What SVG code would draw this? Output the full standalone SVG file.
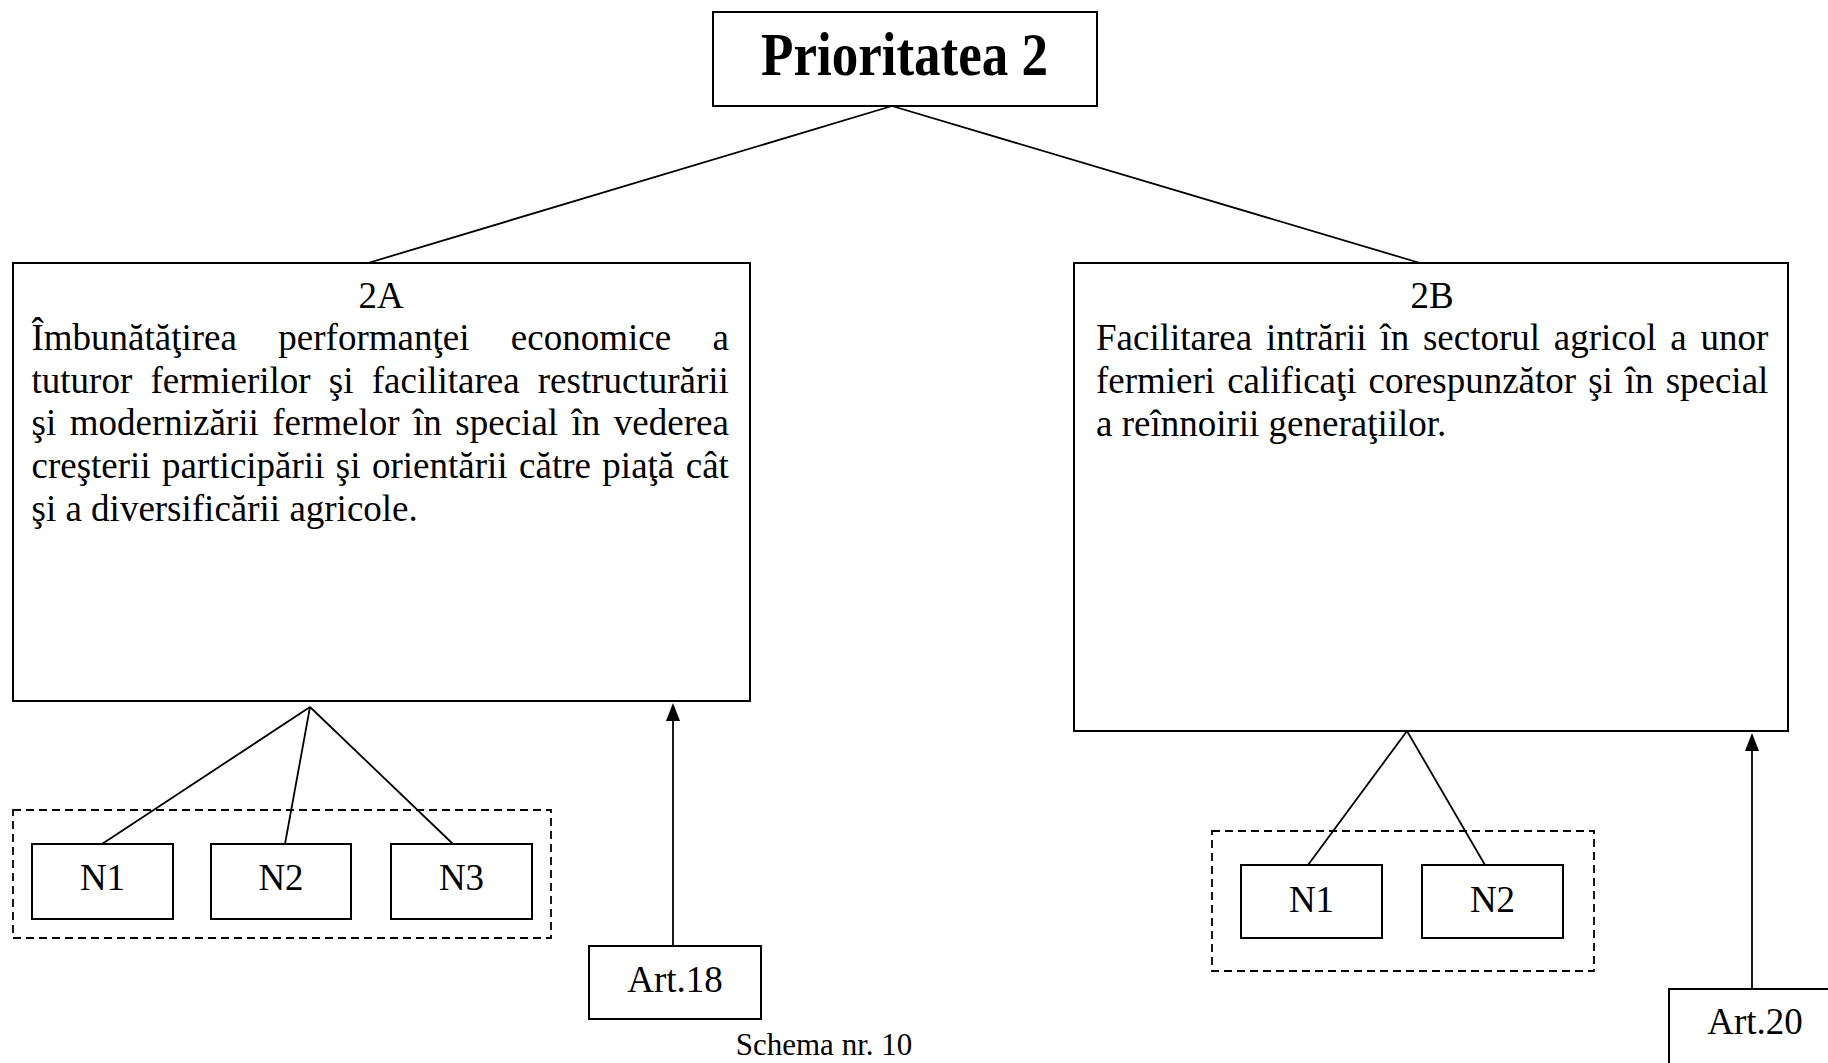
<svg xmlns="http://www.w3.org/2000/svg" width="1828" height="1063" viewBox="0 0 1828 1063">
<style>
.box{fill:#fff;stroke:#000;stroke-width:2}
.grp{fill:none;stroke:#000;stroke-width:1.8;stroke-dasharray:8 5}
.ln{fill:none;stroke:#000;stroke-width:1.8}
.t{font-family:"Liberation Serif","Times New Roman",serif;font-size:37px;fill:#000}
.c{text-anchor:middle}
</style>
<rect width="1828" height="1063" fill="#fff"/>
<g id="connectors">
<line class="ln" x1="892" y1="106" x2="368" y2="263"/>
<line class="ln" x1="892" y1="106" x2="1420" y2="263"/>
<line class="ln" x1="310" y1="707" x2="102" y2="844"/>
<line class="ln" x1="310" y1="707" x2="285" y2="844"/>
<line class="ln" x1="310" y1="707" x2="453" y2="844"/>
<line class="ln" x1="1407" y1="731" x2="1308" y2="865"/>
<line class="ln" x1="1407" y1="731" x2="1485" y2="865"/>
<path class="ln" d="M673,946 L673,720"/>
<path d="M666,721 L673,703 L680,721 Z" fill="#000"/>
<path class="ln" d="M1752,989 L1752,750"/>
<path d="M1745,751 L1752,733 L1759,751 Z" fill="#000"/>
</g>
<g id="p2">
<rect class="box" x="713" y="12" width="384" height="94"/>
<text x="761" y="75" font-family="Liberation Serif,Times New Roman,serif" font-weight="bold" font-size="62" textLength="287" lengthAdjust="spacingAndGlyphs">Prioritatea 2</text>
</g>
<g id="n2a">
<rect class="box" x="13" y="263" width="737" height="438"/>
<text class="t c" x="381" y="308">2A</text>
<text class="t" x="31.5" y="350" style="word-spacing:32.15px">Îmbunătăţirea performanţei economice a</text>
<text class="t" x="31.5" y="393" style="word-spacing:8.95px">tuturor fermierilor şi facilitarea restructurării</text>
<text class="t" x="31.5" y="435" style="word-spacing:4.25px">şi modernizării fermelor în special în vederea</text>
<text class="t" x="31.5" y="478" style="word-spacing:2.2px">creşterii participării şi orientării către piaţă cât</text>
<text class="t" x="31.5" y="521">şi a diversificării agricole.</text>
</g>
<g id="n2b">
<rect class="box" x="1074" y="263" width="714" height="468"/>
<text class="t c" x="1432" y="308">2B</text>
<text class="t" x="1096" y="350" style="word-spacing:4.53px">Facilitarea intrării în sectorul agricol a unor</text>
<text class="t" x="1096" y="393" style="word-spacing:2.77px">fermieri calificaţi corespunzător şi în special</text>
<text class="t" x="1096" y="436">a reînnoirii generaţiilor.</text>
</g>
<g id="grp2a">
<rect class="grp" x="13" y="810" width="538" height="128"/>
</g>
<g id="n2a-n1">
<rect class="box" x="32" y="844" width="141" height="75"/>
<text class="t c" x="102.5" y="890">N1</text>
</g>
<g id="n2a-n2">
<rect class="box" x="211" y="844" width="140" height="75"/>
<text class="t c" x="281" y="890">N2</text>
</g>
<g id="n2a-n3">
<rect class="box" x="391" y="844" width="141" height="75"/>
<text class="t c" x="461.5" y="890">N3</text>
</g>
<g id="art18">
<rect class="box" x="589" y="946" width="172" height="73"/>
<text class="t c" x="675" y="992">Art.18</text>
</g>
<g id="grp2b">
<rect class="grp" x="1212" y="831" width="382" height="140"/>
</g>
<g id="n2b-n1">
<rect class="box" x="1241" y="865" width="141" height="73"/>
<text class="t c" x="1311.5" y="912">N1</text>
</g>
<g id="n2b-n2">
<rect class="box" x="1422" y="865" width="141" height="73"/>
<text class="t c" x="1492.5" y="912">N2</text>
</g>
<g id="art20">
<rect class="box" x="1669" y="989" width="200" height="100"/>
<text class="t c" x="1755" y="1034">Art.20</text>
</g>
<g id="caption">
<text x="824" y="1055" font-family="Liberation Serif,Times New Roman,serif" font-size="31" text-anchor="middle">Schema nr. 10</text>
</g>
</svg>
